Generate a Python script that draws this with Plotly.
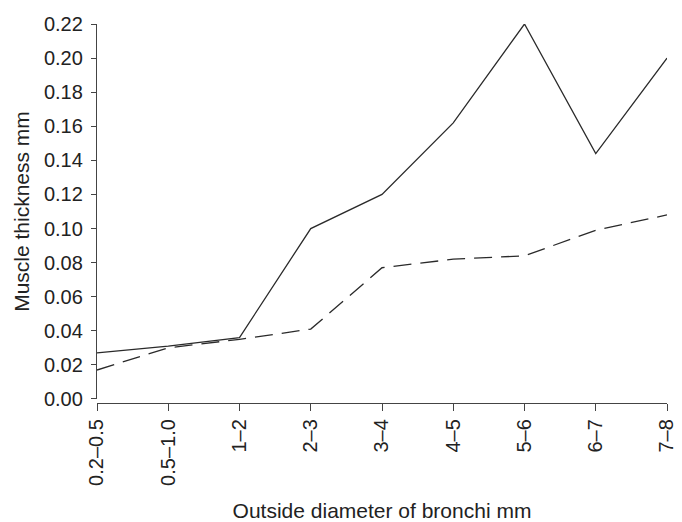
import plotly.graph_objects as go

categories = ["0.2–0.5", "0.5–1.0", "1–2", "2–3", "3–4", "4–5", "5–6", "6–7", "7–8"]
solid_values = [0.027, 0.031, 0.036, 0.100, 0.120, 0.162, 0.220, 0.144, 0.200]
dashed_values = [0.017, 0.030, 0.035, 0.041, 0.077, 0.082, 0.084, 0.099, 0.108]
y_ticks = [0.00, 0.02, 0.04, 0.06, 0.08, 0.10, 0.12, 0.14, 0.16, 0.18, 0.20, 0.22]

FONT = "Liberation Sans, Arial, sans-serif"
INK = "#2a2a2a"

fig = go.Figure()
fig.add_trace(go.Scatter(x=categories, y=solid_values, mode="lines",
                         line=dict(color=INK, width=1.3), showlegend=False))
fig.add_trace(go.Scatter(x=categories, y=dashed_values, mode="lines",
                         line=dict(color=INK, width=1.3, dash="18px,9px"), showlegend=False))

# page body has an 8px default margin, so the figure is sized to fit inside it
fig.update_layout(
    width=674, height=514,
    margin=dict(l=89, r=15, t=16, b=119, autoexpand=False),
    paper_bgcolor="white", plot_bgcolor="white",
    font=dict(family=FONT, size=20, color="#222"),
    xaxis=dict(
        type="category", range=[0, 8], automargin=False,
        showline=True, linecolor="#444", linewidth=1.3,
        ticks="outside", ticklen=7, tickwidth=1.3, tickcolor="#444",
        tickangle=-90, showgrid=False, zeroline=False,
        tickfont=dict(size=20),
        title=dict(text="Outside diameter of bronchi mm", standoff=19, font=dict(size=21)),
        anchor="free", position=0,
    ),
    yaxis=dict(
        domain=[0.0106, 1], range=[0, 0.22], automargin=False,
        tickvals=y_ticks, ticktext=[f"{v:.2f}" for v in y_ticks],
        showline=True, linecolor="#444", linewidth=1.3,
        ticks="outside", ticklen=5, tickwidth=1.3, tickcolor="#444",
        ticklabelstandoff=4,
        tickfont=dict(size=20),
        showgrid=False, zeroline=False,
        title=dict(text="Muscle thickness mm", standoff=8, font=dict(size=21)),
    ),
)

fig.write_html("out.html")
